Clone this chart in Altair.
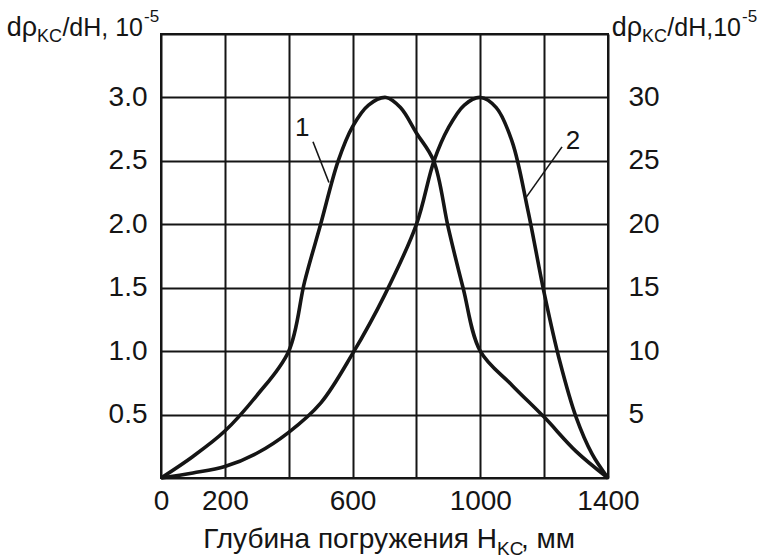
import altair as alt
import pandas as pd

# Curve 1 (left axis, 10^-5)
x1 = [0, 100, 200, 300, 400, 450, 500, 555, 600, 650, 705, 750, 800, 854, 900, 946, 1000, 1100, 1200, 1300, 1400]
y1 = [0, 0.17, 0.37, 0.65, 1.0, 1.55, 2.0, 2.5, 2.77, 2.94, 3.0, 2.92, 2.72, 2.5, 1.97, 1.5, 1.0, 0.73, 0.48, 0.21, 0]

# Curve 2 (right axis, 10^-5)
x2 = [0, 100, 200, 300, 400, 500, 600, 700, 800, 855, 900, 950, 1000, 1050, 1100, 1150, 1200, 1250, 1300, 1350, 1400]
y2 = [0, 0.4, 0.9, 1.95, 3.6, 5.9, 9.8, 14.4, 20, 25, 27.6, 29.4, 30, 29.2, 26.5, 21, 14.6, 9.1, 4.8, 1.9, 0]

x_ticks = [0, 200, 400, 600, 800, 1000, 1200, 1400]
y_left_ticks = [0, 0.5, 1.0, 1.5, 2.0, 2.5, 3.0, 3.5]
y_right_ticks = [0, 5, 10, 15, 20, 25, 30, 35]

curve_labels = ["1", "2"]
label_x = [442, 1290]
label_y = [2.76, 2.66]
leader_x = [476, 1256]
leader_y = [2.65, 2.61]
leader_x2 = [526, 1143]
leader_y2 = [2.33, 2.21]

FONT = "Liberation Sans"
INK = "#151515"
W, H = 447, 444
FS = 28

df1 = pd.DataFrame({"x": x1, "y": y1})
df2 = pd.DataFrame({"x": x2, "y": y2})
dl = pd.DataFrame({"t": curve_labels, "x": label_x, "y": label_y,
                   "lx": leader_x, "ly": leader_y, "lx2": leader_x2, "ly2": leader_y2})

xs = alt.Scale(domain=[0, 1400], nice=False, zero=False)
ysl = alt.Scale(domain=[0, 3.5], nice=False, zero=False)
ysr = alt.Scale(domain=[0, 35], nice=False, zero=False)

hide_x = "(datum.value==400||datum.value==800||datum.value==1200) ? '' : format(datum.value, 'd')"
hide_yl = "(datum.value==0||datum.value==3.5) ? '' : format(datum.value, '.1f')"
hide_yr = "(datum.value==0||datum.value==35) ? '' : format(datum.value, 'd')"

x_axis = alt.Axis(values=x_ticks, labelExpr=hide_x, title=None, grid=True,
                  gridColor=INK, gridWidth=2, gridOpacity=1, ticks=False,
                  domain=False, labelFont=FONT, labelFontSize=FS, labelColor=INK,
                  labelPadding=9, labelFlush=False)

curve1 = alt.Chart(df1).mark_line(color=INK, strokeWidth=3.6, interpolate="catmull-rom").encode(
    x=alt.X("x:Q", scale=xs, axis=x_axis),
    y=alt.Y("y:Q", scale=ysl, axis=alt.Axis(values=y_left_ticks, labelExpr=hide_yl, title=None,
                                             grid=True, gridColor=INK, gridWidth=2, gridOpacity=1,
                                             ticks=False, domain=False, labelFont=FONT,
                                             labelFontSize=FS, labelColor=INK, labelPadding=14,
                                             labelFlush=False)),
)

labels = alt.Chart(dl).mark_text(font=FONT, fontSize=26, color=INK).encode(
    x=alt.X("x:Q", scale=xs), y=alt.Y("y:Q", scale=ysl), text="t:N")

leaders = alt.Chart(dl).mark_rule(color=INK, strokeWidth=1.6).encode(
    x=alt.X("lx:Q", scale=xs), y=alt.Y("ly:Q", scale=ysl), x2="lx2:Q", y2="ly2:Q")


def txt(s, px, py, size=FS, align="left"):
    return alt.Chart(pd.DataFrame({"t": [s]})).mark_text(
        font=FONT, fontSize=size, color=INK, align=align, baseline="alphabetic"
    ).encode(x=alt.value(px), y=alt.value(py), text="t:N")


ox, oy = 161, 34
texts = [
    # left header
    txt("dρ", 37 - ox, 36 - oy, size=27, align="right"),
    txt("KC", 37 - ox, 42 - oy, size=18),
    txt("/dH, 10", 143 - ox, 36 - oy, size=25, align="right"),
    txt("-5", 144 - ox, 22 - oy, size=17),
    # right header
    txt("dρ", 642 - ox, 36 - oy, size=27, align="right"),
    txt("KC", 642 - ox, 42 - oy, size=18),
    txt("/dH,10", 741 - ox, 36 - oy, size=25, align="right"),
    txt("-5", 742 - ox, 22 - oy, size=17),
    # x title
    txt("Глубина погружения H", 497 - ox, 548 - oy, align="right"),
    txt("KC", 497 - ox, 555 - oy, size=19),
    txt(", мм", 521 - ox, 548 - oy),
]

left = alt.layer(curve1, leaders, labels, *texts)

curve2 = alt.Chart(df2).mark_line(color=INK, strokeWidth=3.6, interpolate="catmull-rom").encode(
    x=alt.X("x:Q", scale=xs),
    y=alt.Y("y:Q", scale=ysr, axis=alt.Axis(orient="right", values=y_right_ticks, labelExpr=hide_yr,
                                             title=None, grid=False, ticks=False, domain=False,
                                             labelFont=FONT, labelFontSize=FS, labelColor=INK,
                                             labelPadding=20, labelFlush=False)),
)

chart = alt.layer(left, curve2).resolve_scale(y="independent").properties(
    width=W, height=H,
    autosize=alt.AutoSizeParams(type="none"),
    padding={"left": ox, "top": oy, "right": 773 - ox - W, "bottom": 559 - oy - H},
    background="white",
).configure_view(stroke=INK, strokeWidth=2)

chart.save("out.html", embed_options={"renderer": "svg", "actions": False})
